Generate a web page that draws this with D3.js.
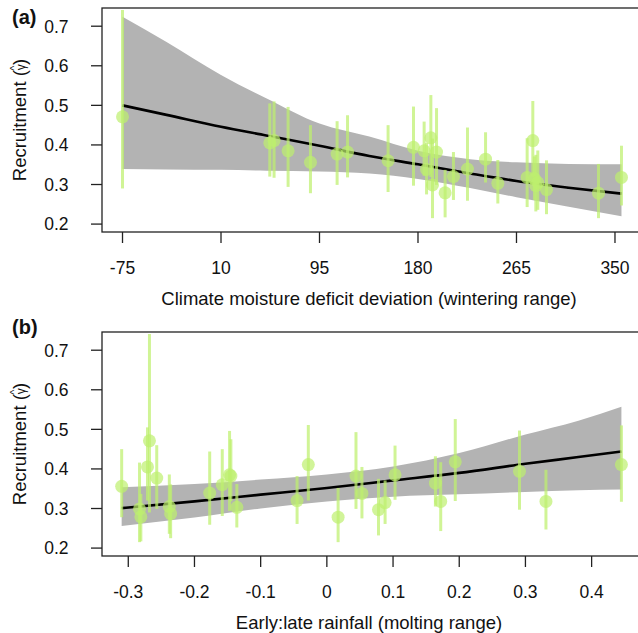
<!DOCTYPE html>
<html>
<head>
<meta charset="utf-8">
<script src="https://cdn.jsdelivr.net/npm/d3@7"></script>
<style>
  body { margin: 0; background: #fff; }
  svg { display: block; font-family: "Liberation Sans", Arial, sans-serif; }
</style>
</head>
<body>
<div id="chart"></div>
<script>
// Recruitment estimates per year, with their 95% intervals
const recruit   = [0.471, 0.405, 0.411, 0.385, 0.356, 0.377, 0.382, 0.360, 0.394, 0.385, 0.338, 0.418, 0.299, 0.382,
                   0.279, 0.320, 0.339, 0.364, 0.303, 0.318, 0.411, 0.297, 0.315, 0.287, 0.278, 0.318, 0.305];
const recruitLo = [0.290, 0.320, 0.317, 0.294, 0.278, 0.299, 0.318, 0.281, 0.297, 0.322, 0.275, 0.319, 0.215, 0.299,
                   0.217, 0.261, 0.259, 0.305, 0.252, 0.243, 0.320, 0.232, 0.261, 0.225, 0.215, 0.247, 0.236];
const recruitHi = [0.741, 0.505, 0.510, 0.496, 0.450, 0.460, 0.475, 0.450, 0.497, 0.459, 0.405, 0.526, 0.416, 0.493,
                   0.337, 0.382, 0.444, 0.432, 0.362, 0.417, 0.511, 0.375, 0.371, 0.361, 0.352, 0.398, 0.386];

// Covariates
const cmdDev    = [-75.0, 52.1, 55.8, 67.9, 87.2, 110.2, 119.2, 154.2, 176.1, 185.3, 187.4, 191.1, 192.5, 196.0,
                   203.4, 210.6, 222.7, 238.3, 248.9, 274.2, 279.1, 281.7, 280.5, 290.9, 335.8, 355.6, 283.4];
const rainRatio = [-0.268, -0.271, 0.445, -0.147, -0.310, -0.257, -0.145, -0.158, 0.291, 0.103, 0.053, 0.194, -0.283, 0.044,
                   -0.281, -0.045, -0.177, 0.164, -0.136, 0.172, -0.028, 0.078, 0.088, -0.236, 0.017, 0.331, -0.238];

// Fitted relationship and confidence band, panel (a)
const fitCmdX  = [-75, -37, 10, 49, 95, 138, 180, 225, 265, 310, 355.6];
const fitCmdY  = [0.500, 0.476, 0.446, 0.424, 0.398, 0.372, 0.351, 0.328, 0.309, 0.292, 0.277];
const fitCmdLo = [0.339, 0.338, 0.337, 0.335, 0.333, 0.328, 0.314, 0.291, 0.268, 0.244, 0.220];
const fitCmdHi = [0.724, 0.660, 0.577, 0.518, 0.454, 0.421, 0.385, 0.364, 0.356, 0.352, 0.351];

// Fitted relationship and confidence band, panel (b)
const fitRainX  = [-0.31, -0.2, -0.1, 0, 0.1, 0.2, 0.3, 0.38, 0.445];
const fitRainY  = [0.301, 0.318, 0.335, 0.352, 0.371, 0.390, 0.413, 0.430, 0.444];
const fitRainLo = [0.256, 0.277, 0.300, 0.318, 0.330, 0.336, 0.342, 0.346, 0.348];
const fitRainHi = [0.354, 0.362, 0.373, 0.386, 0.406, 0.440, 0.487, 0.522, 0.557];

// Ticks
const yTicks     = [0.2, 0.3, 0.4, 0.5, 0.6, 0.7];
const cmdTicks   = [-75, 10, 95, 180, 265, 350];
const rainTicks  = [-0.3, -0.2, -0.1, 0, 0.1, 0.2, 0.3, 0.4];

const width = 638, height = 633;
const ptColor = "#bef06e";

const svg = d3.select("#chart").append("svg")
    .attr("width", width)
    .attr("height", height);

function drawPanel(opts) {
    const top = opts.top;
    const left = 102, right = 641.4, bottom = top + 224;

    const x = d3.scaleLinear().domain(opts.xDomain).range([left, right]);
    const y = d3.scaleLinear().domain([0.18, 0.746]).range([bottom, top]);

    const g = svg.append("g");

    // confidence band
    const band = opts.fitX.map((v, i) => ({x: v, lo: opts.fitLo[i], hi: opts.fitHi[i], y: opts.fitY[i]}));
    g.append("path")
        .datum(band)
        .attr("fill", "#b3b3b3")
        .attr("d", d3.area()
            .x(d => x(d.x))
            .y0(d => y(d.lo))
            .y1(d => y(d.hi))
            .curve(d3.curveMonotoneX));

    // fitted line
    g.append("path")
        .datum(band)
        .attr("fill", "none")
        .attr("stroke", "#000")
        .attr("stroke-width", 2.6)
        .attr("d", d3.line()
            .x(d => x(d.x))
            .y(d => y(d.y))
            .curve(d3.curveMonotoneX));

    const pts = recruit.map((r, i) => ({x: opts.xs[i], y: r, lo: recruitLo[i], hi: recruitHi[i]}));

    // error bars
    g.selectAll(".bar")
        .data(pts)
        .join("line")
        .attr("x1", d => x(d.x))
        .attr("x2", d => x(d.x))
        .attr("y1", d => y(d.lo))
        .attr("y2", d => y(d.hi))
        .attr("stroke", ptColor)
        .attr("stroke-opacity", 0.72)
        .attr("stroke-width", 3);

    // points
    g.selectAll(".pt")
        .data(pts)
        .join("circle")
        .attr("cx", d => x(d.x))
        .attr("cy", d => y(d.y))
        .attr("r", 6.5)
        .attr("fill", ptColor)
        .attr("fill-opacity", 0.7);

    // box
    g.append("rect")
        .attr("x", left)
        .attr("y", top)
        .attr("width", right - left)
        .attr("height", bottom - top)
        .attr("fill", "none")
        .attr("stroke", "#222")
        .attr("stroke-width", 1.3);

    // y axis
    const yAxis = g.append("g");
    yAxis.selectAll("line")
        .data(yTicks)
        .join("line")
        .attr("x1", left - 11).attr("x2", left)
        .attr("y1", d => y(d)).attr("y2", d => y(d))
        .attr("stroke", "#222").attr("stroke-width", 1.3);
    yAxis.selectAll("text")
        .data(yTicks)
        .join("text")
        .attr("x", 68.5)
        .attr("y", d => y(d))
        .attr("dy", "0.36em")
        .attr("text-anchor", "end")
        .attr("font-size", 17.5)
        .attr("fill", "#111")
        .text(d => d.toFixed(1));

    // x axis
    const xAxis = g.append("g");
    xAxis.selectAll("line")
        .data(opts.ticks)
        .join("line")
        .attr("x1", d => x(d)).attr("x2", d => x(d))
        .attr("y1", bottom).attr("y2", bottom + 11)
        .attr("stroke", "#222").attr("stroke-width", 1.3);
    xAxis.selectAll("text")
        .data(opts.ticks)
        .join("text")
        .attr("x", d => x(d))
        .attr("y", bottom + 41.5)
        .attr("text-anchor", "middle")
        .attr("font-size", 17.5)
        .attr("fill", "#111")
        .text(opts.tickFormat);

    // titles
    g.append("text")
        .attr("x", 369)
        .attr("y", bottom + 73)
        .attr("text-anchor", "middle")
        .attr("font-size", 18.5)
        .attr("fill", "#111")
        .text(opts.xTitle);

    const yt = g.append("text")
        .attr("transform", `translate(26,${(top + bottom) / 2}) rotate(-90)`)
        .attr("text-anchor", "middle")
        .attr("font-size", 18.5)
        .attr("fill", "#111");
    yt.append("tspan").text("Recruitment (");
    yt.append("tspan").attr("font-size", 12).attr("dy", -1).text("\u03B3");
    yt.append("tspan").attr("font-size", 11).attr("dx", -6.5).attr("dy", -7).text("^");
    yt.append("tspan").attr("dx", 0.5).attr("dy", 8).text(")");

    g.append("text")
        .attr("x", 12)
        .attr("y", opts.labelY)
        .attr("font-size", 20)
        .attr("font-weight", "bold")
        .attr("fill", "#111")
        .text(opts.label);
}

drawPanel({
    top: 8,
    xDomain: [-92.7, 372.8],
    xs: cmdDev,
    fitX: fitCmdX, fitY: fitCmdY, fitLo: fitCmdLo, fitHi: fitCmdHi,
    ticks: cmdTicks,
    tickFormat: d => String(d),
    xTitle: "Climate moisture deficit deviation (wintering range)",
    label: "(a)",
    labelY: 24
});

drawPanel({
    top: 332,
    xDomain: [-0.3397, 0.4752],
    xs: rainRatio,
    fitX: fitRainX, fitY: fitRainY, fitLo: fitRainLo, fitHi: fitRainHi,
    ticks: rainTicks,
    tickFormat: d => d === 0 ? "0" : d.toFixed(1),
    xTitle: "Early:late rainfall (molting range)",
    label: "(b)",
    labelY: 334
});
</script>
</body>
</html>
